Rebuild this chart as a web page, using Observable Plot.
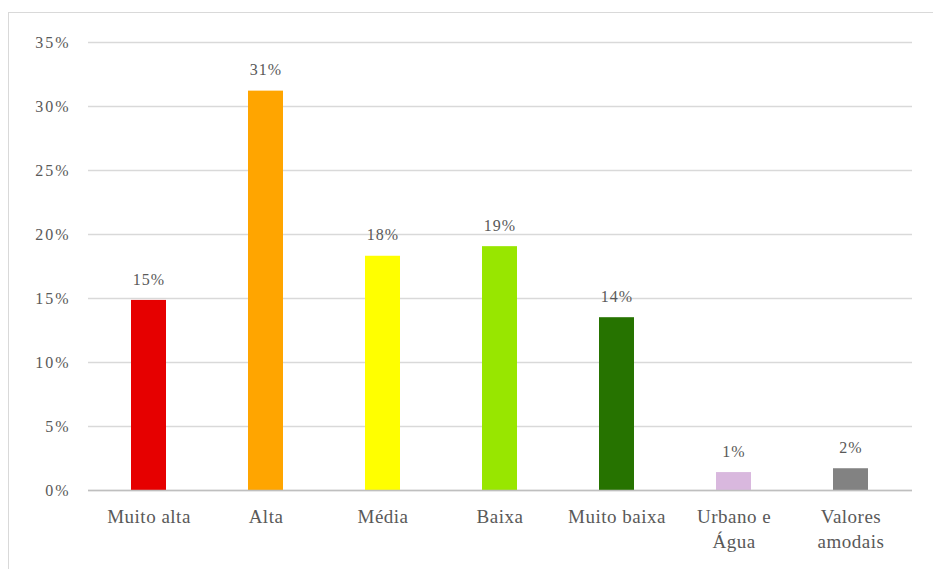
<!DOCTYPE html>
<html>
<head>
<meta charset="utf-8">
<script src="https://cdn.jsdelivr.net/npm/d3@7"></script>
<script src="https://cdn.jsdelivr.net/npm/@observablehq/plot@0.6"></script>
<style>
  html, body { margin: 0; padding: 0; background: #fff; }
  #wrap { position: relative; width: 933px; height: 569px; overflow: hidden; }
  #frame { position: absolute; left: 8px; top: 12px; width: 940px; height: 600px;
           border-left: 1.5px solid #d9d9d9; border-top: 1.5px solid #d9d9d9; box-sizing: border-box; }
  #chart { position: absolute; left: 0; top: 0; }
  #chart svg, #chart svg text, #chart svg tspan { font-family: "Liberation Serif", "Times New Roman", "DejaVu Serif", serif !important; }
  #chart svg g[aria-label="y-axis tick label"] text { letter-spacing: 2px; }
  #chart svg g[aria-label="text"] text { letter-spacing: 1px; }
  #chart svg g[aria-label="x-axis tick label"] text { letter-spacing: 0.5px; }
</style>
</head>
<body>
<div id="wrap"><div id="frame"></div><div id="chart"></div></div>
<script>
const categories = ["Muito alta", "Alta", "Média", "Baixa", "Muito baixa", "Urbano e\nÁgua", "Valores\namodais"];
const values = [14.85, 31.2, 18.3, 19.05, 13.5, 1.4, 1.7];
const labels = ["15%", "31%", "18%", "19%", "14%", "1%", "2%"];
const colors = ["#e60000", "#ffa500", "#ffff00", "#98e600", "#267300", "#d9b8de", "#828282"];
const yTicks = [0, 5, 10, 15, 20, 25, 30, 35];

const data = categories.map((c, i) => ({cat: c, value: values[i], label: labels[i], color: colors[i]}));

const serif = "Liberation Serif, Times New Roman, DejaVu Serif, serif";
const chart = Plot.plot({
  width: 933,
  height: 569,
  marginLeft: 88,
  marginRight: 21,
  marginTop: 42,
  marginBottom: 79,
  style: {fontFamily: serif, color: "#595959", background: "transparent"},
  x: {domain: categories, paddingInner: 0.7, paddingOuter: 0.35, label: null, tickSize: 0, tickPadding: 14},
  y: {domain: [0, 35], ticks: yTicks, tickFormat: d => d + "%", label: null, tickSize: 0, tickPadding: 18},
  marks: [
    Plot.gridY(yTicks, {stroke: "#d9d9d9", strokeOpacity: 1, strokeWidth: 1.5}),
    Plot.barY(data, {x: "cat", y: "value", fill: "color"}),
    Plot.ruleY([0], {stroke: "#bfbfbf", strokeWidth: 1.5}),
    Plot.text(data, {x: "cat", y: "value", text: "label", dy: -21, fontSize: 16, fill: "#595959"}),
    Plot.axisY({ticks: yTicks, tickFormat: d => d + "%", tickSize: 0, tickPadding: 18, fontSize: 16, label: null}),
    Plot.axisX({tickSize: 0, tickPadding: 14, fontSize: 19, label: null, lineHeight: 1.35})
  ]
});
document.getElementById("chart").appendChild(chart);
</script>
</body>
</html>
